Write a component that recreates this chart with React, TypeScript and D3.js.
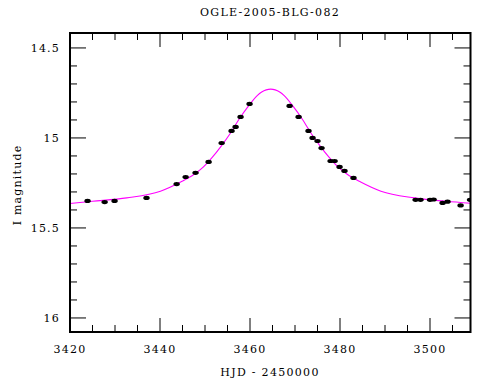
import React from "react";
import * as d3 from "d3";

const title = "OGLE-2005-BLG-082";
const xTitle = "HJD - 2450000";
const yTitle = "I magnitude";

const xDomain = [3420, 3509];
const yDomain = [14.417, 16.078];
const xMajor = [3420, 3440, 3460, 3480, 3500];
const yMajor = [14.5, 15, 15.5, 16];
const yMajorLabels = ["14.5", "15", "15.5", "16"];

const obsHJD = [
  3423.9, 3427.7, 3429.9, 3437.0, 3443.7, 3445.7, 3447.9, 3450.8, 3453.7, 3455.9,
  3456.8, 3457.9, 3459.9, 3468.8, 3470.8, 3473.0, 3473.9, 3475.0, 3475.9, 3477.9,
  3478.8, 3479.9, 3481.0, 3483.0, 3496.8, 3497.9, 3500.0, 3500.8, 3502.8, 3503.9,
  3506.8, 3508.9,
];
const obsMag = [
  15.35, 15.356, 15.35, 15.333, 15.256, 15.217, 15.194, 15.133, 15.028, 14.961,
  14.939, 14.883, 14.811, 14.822, 14.883, 14.961, 15.0, 15.017, 15.056, 15.128,
  15.128, 15.161, 15.183, 15.222, 15.344, 15.344, 15.344, 15.342, 15.361, 15.354,
  15.375, 15.344,
];

const modelHJD = [
  3420, 3425, 3432.6, 3440.1, 3444.6, 3447.6, 3449.6, 3451.6, 3453.6, 3455.6,
  3457.6, 3459.6, 3461.6, 3462.6, 3463.6, 3464.6, 3465.6, 3466.6, 3467.6, 3469.6,
  3471.6, 3473.6, 3475.6, 3477.6, 3479.6, 3481.6, 3484.6, 3489.1, 3496.6, 3503.6,
  3509,
];
const modelMag = [
  15.364, 15.352, 15.333, 15.296, 15.245, 15.202, 15.162, 15.108, 15.045, 14.975,
  14.895, 14.825, 14.765, 14.745, 14.733, 14.729, 14.733, 14.745, 14.765, 14.825,
  14.895, 14.975, 15.045, 15.108, 15.162, 15.202, 15.245, 15.296, 15.333, 15.352,
  15.363,
];

const W = 490;
const H = 380;
const L = 70;
const R = 470.5;
const T = 33;
const B = 332;
const FONT = "'DejaVu Serif', serif";

export default function App() {
  const x = d3.scaleLinear().domain(xDomain).range([L, R]);
  const y = d3.scaleLinear().domain(yDomain).range([T, B]);

  const xMinor = d3.range(3425, 3509, 5).filter((v) => !xMajor.includes(v));
  const yMinor = d3.range(14.5, 16.05, 0.1)
    .map((v) => Math.round(v * 10) / 10)
    .filter((v) => !yMajor.includes(v));

  const line = d3
    .line<number>()
    .x((_, i) => x(modelHJD[i]))
    .y((d) => y(d))
    .curve(d3.curveMonotoneX);

  const majLen = 14;
  const minLen = 7;

  return (
    <svg width={W} height={H} style={{ position: "absolute", left: 0, top: 0, background: "#fff" }}>
      <defs>
        <clipPath id="plot">
          <rect x={L} y={T} width={R - L} height={B - T} />
        </clipPath>
      </defs>
      <rect x={0} y={0} width={W} height={H} fill="#fff" />
      <text x={270} y={16} textAnchor="middle" fontFamily={FONT} fontSize={11} letterSpacing={1.3} fill="#000">
        {title}
      </text>

      <g clipPath="url(#plot)">
        <path d={line(modelMag) || ""} fill="none" stroke="#ff00ff" strokeWidth={1.1} />
        {obsHJD.map((t, i) => (
          <ellipse key={i} cx={x(t)} cy={y(obsMag[i])} rx={3.2} ry={2.1} fill="#000" />
        ))}
      </g>

      <g stroke="#000" strokeWidth={1}>
        {xMajor.map((v) => (
          <g key={"xm" + v}>
            <line x1={x(v)} x2={x(v)} y1={B} y2={B - majLen} />
            <line x1={x(v)} x2={x(v)} y1={T} y2={T + majLen} />
          </g>
        ))}
        {xMinor.map((v) => (
          <g key={"xn" + v}>
            <line x1={x(v)} x2={x(v)} y1={B} y2={B - minLen} />
            <line x1={x(v)} x2={x(v)} y1={T} y2={T + minLen} />
          </g>
        ))}
        {yMajor.map((v) => (
          <g key={"ym" + v}>
            <line x1={L} x2={L + majLen + 2} y1={y(v)} y2={y(v)} />
            <line x1={R} x2={R - majLen - 2} y1={y(v)} y2={y(v)} />
          </g>
        ))}
        {yMinor.map((v) => (
          <g key={"yn" + v}>
            <line x1={L} x2={L + minLen} y1={y(v)} y2={y(v)} />
            <line x1={R} x2={R - minLen} y1={y(v)} y2={y(v)} />
          </g>
        ))}
      </g>
      <rect x={L} y={T} width={R - L} height={B - T} fill="none" stroke="#000" strokeWidth={2} />

      {xMajor.map((v) => (
        <text key={"xl" + v} x={x(v)} y={353} textAnchor="middle" fontFamily={FONT} fontSize={11} letterSpacing={1.2} fill="#000">
          {v}
        </text>
      ))}
      {yMajor.map((v, i) => (
        <text key={"yl" + v} x={60} y={y(v) + 4} textAnchor="end" fontFamily={FONT} fontSize={11} letterSpacing={1.2} fill="#000">
          {yMajorLabels[i]}
        </text>
      ))}
      <text x={270} y={376} textAnchor="middle" fontFamily={FONT} fontSize={11} letterSpacing={1.3} fill="#000">
        {xTitle}
      </text>
      <text
        transform={`translate(21, 185) rotate(-90)`}
        textAnchor="middle"
        fontFamily={FONT}
        fontSize={11}
        letterSpacing={1.2}
        fill="#000"
      >
        {yTitle}
      </text>
    </svg>
  );
}
